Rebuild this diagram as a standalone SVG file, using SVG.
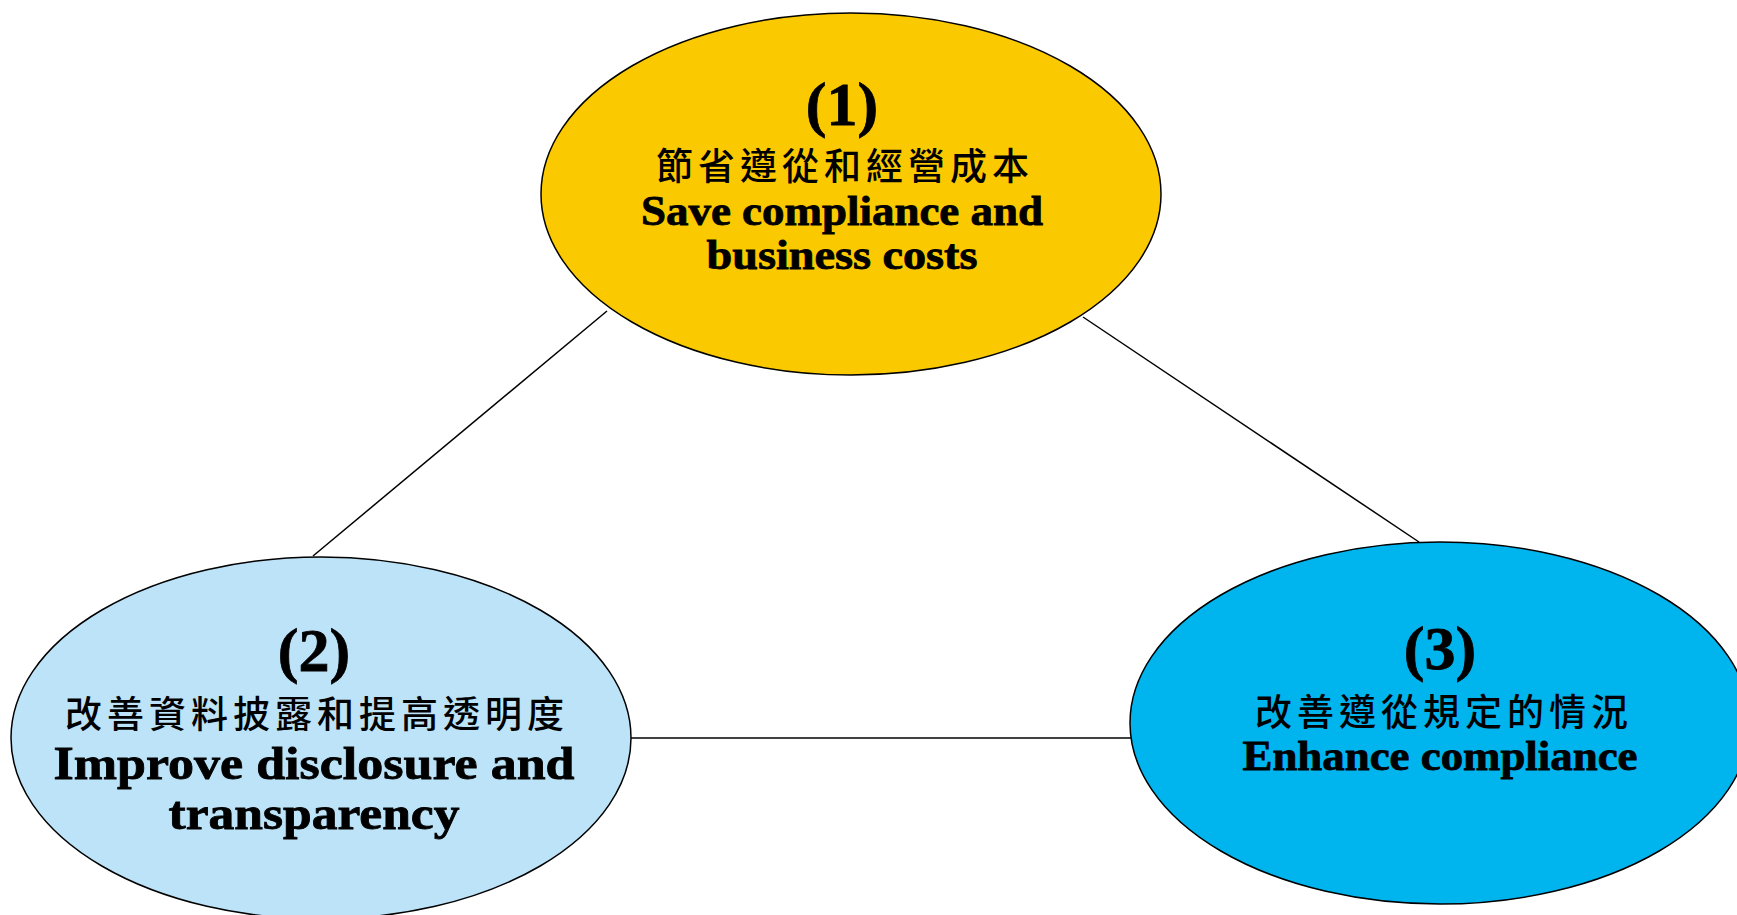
<svg xmlns="http://www.w3.org/2000/svg" width="1737" height="915" viewBox="0 0 1737 915">
<style>
.node ellipse{stroke:#000;stroke-width:1.5}
.en{font-family:"Liberation Serif","Times New Roman",serif;font-weight:bold;fill:#000;stroke:#000;stroke-width:0.8;text-anchor:middle}
.num{font-size:62px}
.cjk{font-family:"Noto Sans CJK TC","Noto Sans CJK SC",sans-serif;font-size:37px;font-weight:500;letter-spacing:5px;fill:#000;text-anchor:middle}
#connectors line{stroke:#000;stroke-width:1.5}
</style>
<rect width="1737" height="915" fill="#fff"/>
<g id="connectors">
<line x1="607" y1="311" x2="313" y2="556"/>
<line x1="1083" y1="317" x2="1419" y2="542"/>
<line x1="631" y1="738" x2="1131" y2="738"/>
</g>
<g id="node1" class="node">
<ellipse cx="851" cy="194" rx="310" ry="181" fill="#FBC900"/>
<text class="en num" x="842" y="125">(1)</text>
<text class="cjk" x="845" y="180">節省遵從和經營成本</text>
<text class="en" x="842" y="225" font-size="42" textLength="402" lengthAdjust="spacingAndGlyphs">Save compliance and</text>
<text class="en" x="842" y="269" font-size="42" textLength="271" lengthAdjust="spacingAndGlyphs">business costs</text>
</g>
<g id="node2" class="node">
<ellipse cx="321" cy="738" rx="310" ry="181" fill="#BDE3F8"/>
<text class="en num" x="314" y="671">(2)</text>
<text class="cjk" x="317" y="728">改善資料披露和提高透明度</text>
<text class="en" x="314" y="779" font-size="46" textLength="521" lengthAdjust="spacingAndGlyphs">Improve disclosure and</text>
<text class="en" x="314" y="829" font-size="46" textLength="291" lengthAdjust="spacingAndGlyphs">transparency</text>
</g>
<g id="node3" class="node">
<ellipse cx="1440" cy="723" rx="310" ry="181" fill="#00B4EE"/>
<text class="en num" x="1440" y="669">(3)</text>
<text class="cjk" x="1444" y="726">改善遵從規定的情況</text>
<text class="en" x="1440" y="770" font-size="42" textLength="395" lengthAdjust="spacingAndGlyphs">Enhance compliance</text>
</g>
</svg>
